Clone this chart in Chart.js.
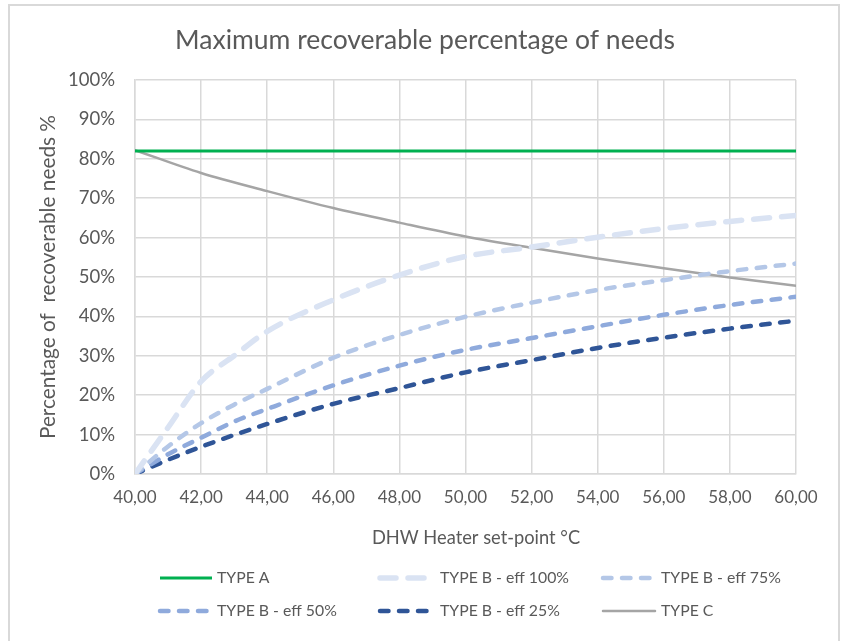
<!DOCTYPE html>
<html>
<head>
<meta charset="utf-8">
<script src="https://cdn.jsdelivr.net/npm/chart.js@4.4.1/dist/chart.umd.min.js"></script>
<style>
  html, body { margin: 0; padding: 0; background: #ffffff; }
  #wrap { width: 846px; height: 641px; position: relative; }
</style>
</head>
<body>
<div id="wrap"><canvas id="c" width="846" height="641"></canvas></div>
<script>
// ---- data ----
const chartTitle = "Maximum recoverable percentage of needs";
const xAxisTitle = "DHW Heater set-point °C";
const yAxisTitle = "Percentage of  recoverable needs %";

const seriesNames = ["TYPE A", "TYPE B - eff 100%", "TYPE B - eff 75%", "TYPE B - eff 50%", "TYPE B - eff 25%", "TYPE C"];

const setpointsA = [40, 60];
const typeA = [82, 82];

const setpointsB = [40, 41, 42, 43, 44, 46, 48, 50, 52, 54, 56, 58, 60];
const typeBeff100 = [0, 11.8, 23.5, 30.0, 36.2, 44.2, 50.5, 55.2, 57.6, 60.1, 62.3, 64.1, 65.6];
const typeBeff75  = [0, 7.0, 12.9, 17.6, 21.6, 29.5, 35.3, 39.9, 43.5, 46.7, 49.2, 51.5, 53.4];
const typeBeff50  = [0, 5.0, 9.2, 13.3, 16.5, 22.5, 27.5, 31.5, 34.5, 37.5, 40.4, 42.9, 45.0];
const typeBeff25  = [0, 3.6, 6.9, 9.9, 12.7, 17.8, 21.8, 25.8, 28.9, 32.0, 34.6, 36.9, 38.9];

const setpointsC = [40, 42, 44, 46, 48, 50, 52, 54, 56, 58, 60];
const typeC = [82.2, 76.4, 71.8, 67.5, 63.8, 60.3, 57.4, 54.7, 52.2, 49.9, 47.8];

const xTicks = [40, 42, 44, 46, 48, 50, 52, 54, 56, 58, 60];
const yTicks = [0, 10, 20, 30, 40, 50, 60, 70, 80, 90, 100];

// ---- build ----
const pts = (xs, ys) => xs.map((x, i) => ({ x: x, y: ys[i] }));
const TEXT = "#595959";
const FONT = "Lato, 'Open Sans', sans-serif";

const styles = [
  { color: "#00B050", width: 3, dash: [] , cap: "butt"},
  { color: "#DAE3F3", width: 5.5, dash: [16, 12], cap: "round" },
  { color: "#B4C7E7", width: 4.5, dash: [8.5, 10.5], cap: "round" },
  { color: "#8FAADC", width: 4.5, dash: [8.5, 10.5], cap: "round" },
  { color: "#2F5597", width: 4.5, dash: [8.5, 10.5], cap: "round" },
  { color: "#A5A5A5", width: 2.5, dash: [], cap: "round" }
];
const seriesData = [
  pts(setpointsA, typeA),
  pts(setpointsB, typeBeff100),
  pts(setpointsB, typeBeff75),
  pts(setpointsB, typeBeff50),
  pts(setpointsB, typeBeff25),
  pts(setpointsC, typeC)
];

const datasets = seriesNames.map((name, i) => ({
  label: name,
  data: seriesData[i],
  borderColor: styles[i].color,
  backgroundColor: styles[i].color,
  borderWidth: styles[i].width,
  borderDash: styles[i].dash,
  borderCapStyle: styles[i].cap,
  pointRadius: 0,
  pointHoverRadius: 0,
  fill: false,
  cubicInterpolationMode: "monotone"
}));

const decorPlugin = {
  id: "decor",
  beforeDraw(chart) {
    const ctx = chart.ctx;
    ctx.save();
    ctx.fillStyle = "#ffffff";
    ctx.fillRect(0, 0, chart.width, chart.height);
    ctx.restore();
  },
  afterDraw(chart) {
    const ctx = chart.ctx;
    const area = chart.chartArea;
    ctx.save();
    // outer frame
    ctx.strokeStyle = "#D9D9D9";
    ctx.lineWidth = 2;
    ctx.strokeRect(9, 5, 830, 700);
    // title
    ctx.fillStyle = TEXT;
    ctx.textAlign = "center";
    ctx.textBaseline = "middle";
    ctx.font = "26.5px " + FONT;
    ctx.fillText(chartTitle, 425, 40);
    // x axis title
    ctx.font = "18.3px " + FONT;
    ctx.fillText(xAxisTitle, 476, 538);
    // y axis title
    ctx.save();
    ctx.font = "20.8px " + FONT;
    ctx.translate(48, (area.top + area.bottom) / 2);
    ctx.rotate(-Math.PI / 2);
    ctx.fillText(yAxisTitle, 0, 0);
    ctx.restore();
    // legend
    const colLine = [160, 380, 603];
    const colText = [217, 440, 661];
    const rowY = [578, 611];
    ctx.textAlign = "left";
    ctx.font = "15.8px " + FONT;
    chart.data.datasets.forEach((ds, i) => {
      const r = Math.floor(i / 3), c = i % 3;
      const y = rowY[r];
      ctx.save();
      ctx.strokeStyle = ds.borderColor;
      ctx.lineWidth = ds.borderWidth;
      ctx.setLineDash(ds.borderDash);
      ctx.lineCap = ds.borderCapStyle;
      ctx.beginPath();
      ctx.moveTo(colLine[c], y);
      ctx.lineTo(colLine[c] + 52, y);
      ctx.stroke();
      ctx.restore();
      ctx.fillStyle = TEXT;
      ctx.fillText(ds.label, colText[c], y);
    });
    ctx.restore();
  }
};

new Chart(document.getElementById("c"), {
  type: "line",
  data: { datasets: datasets },
  options: {
    responsive: false,
    animation: false,
    events: [],
    layout: { padding: { left: 0, right: 50, top: 80, bottom: 87 } },
    plugins: { legend: { display: false }, title: { display: false }, tooltip: { enabled: false } },
    scales: {
      x: {
        type: "linear",
        min: xTicks[0],
        max: xTicks[xTicks.length - 1],
        afterBuildTicks: (s) => { s.ticks = xTicks.map(v => ({ value: v })); },
        afterFit: (s) => { s.height = 80; },
        ticks: {
          autoSkip: false, maxRotation: 0, color: TEXT, padding: 13,
          font: { family: FONT, size: 17 },
          callback: (v) => Number(v).toFixed(2).replace(".", ",")
        },
        grid: { color: "#D9D9D9", lineWidth: 1.5, drawTicks: false },
        border: { color: "#D9D9D9", width: 1.5 }
      },
      y: {
        type: "linear",
        min: yTicks[0],
        max: yTicks[yTicks.length - 1],
        afterBuildTicks: (s) => { s.ticks = yTicks.map(v => ({ value: v })); },
        afterFit: (s) => { s.width = 135; },
        ticks: {
          color: TEXT, padding: 20,
          font: { family: FONT, size: 18.5 },
          callback: (v) => v + "%"
        },
        grid: { color: "#D9D9D9", lineWidth: 1.5, drawTicks: false },
        border: { color: "#D9D9D9", width: 1.5 }
      }
    }
  },
  plugins: [decorPlugin]
});
</script>
</body>
</html>
